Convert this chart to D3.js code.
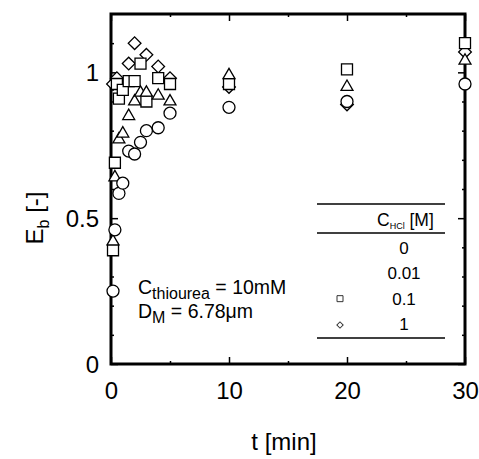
<!DOCTYPE html>
<html><head><meta charset="utf-8">
<script src="https://cdn.jsdelivr.net/npm/d3@7"></script>
<style>body{margin:0;background:#fff}svg{display:block;font-family:"Liberation Sans",Arial,sans-serif}</style>
</head><body><svg id="c" width="479" height="459"></svg>
<script>
// Data (C_HCl series)
const tCircle = [0.17, 0.33, 0.67, 1, 1.5, 2, 2.5, 3, 4, 5, 10, 20, 30];
const eCircle = [0.25, 0.46, 0.585, 0.62, 0.73, 0.72, 0.76, 0.80, 0.81, 0.86, 0.88, 0.90, 0.96];
const tTriangle = [0.17, 0.33, 0.67, 1, 1.5, 2, 2.5, 3, 4, 5, 10, 20, 30];
const eTriangle = [0.42, 0.64, 0.77, 0.79, 0.85, 0.90, 0.93, 0.93, 0.92, 0.90, 0.99, 0.95, 1.04];
const tSquare = [0.17, 0.33, 0.5, 0.67, 1, 1.5, 2, 2.5, 3, 4, 5, 10, 20, 30];
const eSquare = [0.39, 0.69, 0.96, 0.91, 0.94, 0.97, 0.97, 1.03, 0.90, 0.98, 0.96, 0.96, 1.01, 1.10];
const tDiamond = [0.17, 0.5, 1.5, 2, 3, 4, 5, 10, 20, 30];
const eDiamond = [0.96, 0.98, 1.03, 1.10, 1.06, 1.02, 0.98, 0.95, 0.89, 1.07];
const xMajor = [0, 10, 20, 30];
const xMinor = [5, 15, 25];
const yMajor = [0, 0.5, 1];
const yMinor = [0.1, 0.2, 0.3, 0.4, 0.6, 0.7, 0.8, 0.9, 1.1];
const legendLabels = ["0", "0.01", "0.1", "1"];

const svg = d3.select("#c");
const L = 111, R = 465, T = 14, B = 364;
const x = d3.scaleLinear().domain([0, 30]).range([L, R]);
const y = d3.scaleLinear().domain([0, 1.2]).range([B, T]);

function tickAxis(axis, tr, vals, size, fmt) {
  const g = svg.append("g").attr("transform", tr)
    .call(axis.tickValues(vals).tickSize(size).tickSizeOuter(0).tickFormat(fmt));
  g.select(".domain").remove();
  g.selectAll(".tick line").attr("stroke", "#000").attr("stroke-width", 1.5);
  return g;
}
const none = () => "";
// bottom
const gb = tickAxis(d3.axisBottom(x), `translate(0,${B})`, xMajor, -7, d3.format("d"));
gb.selectAll("text").attr("font-size", 24).attr("fill", "#000").attr("y", 18).attr("dy", "0.71em");
tickAxis(d3.axisBottom(x), `translate(0,${B})`, xMinor, -3, none);
// top
tickAxis(d3.axisTop(x), `translate(0,${T})`, xMajor, -7, none);
tickAxis(d3.axisTop(x), `translate(0,${T})`, xMinor, -3, none);
// left
const gl = tickAxis(d3.axisLeft(y), `translate(${L},0)`, yMajor, -7, d => d === 0.5 ? "0.5" : d3.format("d")(d));
gl.selectAll("text").attr("font-size", 24).attr("fill", "#000").attr("x", -12).attr("dy", "0.35em");
tickAxis(d3.axisLeft(y), `translate(${L},0)`, yMinor, -3, none);
// right
tickAxis(d3.axisRight(y), `translate(${R},0)`, yMajor, -7, none);
tickAxis(d3.axisRight(y), `translate(${R},0)`, yMinor, -3, none);

// frame
svg.append("rect").attr("x", L).attr("y", T).attr("width", R - L).attr("height", B - T)
  .attr("fill", "none").attr("stroke", "#000").attr("stroke-width", 3);

// markers
const sym = {
  circle: d3.symbol().type(d3.symbolCircle).size(113),
  triangle: d3.symbol().type(d3.symbolTriangle).size(62),
  square: d3.symbol().type(d3.symbolSquare).size(121),
  diamond: d3.symbol().type(d3.symbolSquare).size(81)
};
const series = [
  {k: "diamond", t: tDiamond, e: eDiamond, rot: 45},
  {k: "square", t: tSquare, e: eSquare, rot: 0},
  {k: "triangle", t: tTriangle, e: eTriangle, rot: 0},
  {k: "circle", t: tCircle, e: eCircle, rot: 0}
];
series.forEach(s => {
  svg.append("g").selectAll("path").data(s.t.map((t, i) => [t, s.e[i]])).join("path")
    .attr("d", sym[s.k])
    .attr("transform", d => `translate(${x(d[0])},${y(d[1])}) rotate(${s.rot})`)
    .attr("fill", "#fff").attr("stroke", "#000").attr("stroke-width", 1.3);
});

// annotations
const ann = svg.append("g").attr("font-size", 19.5).attr("fill", "#000");
const a1 = ann.append("text").attr("x", 138).attr("y", 294);
a1.append("tspan").text("C");
a1.append("tspan").attr("font-size", 16).attr("dy", 5).text("thiourea");
a1.append("tspan").attr("dy", -5).text(" = 10mM");
const a2 = ann.append("text").attr("x", 138).attr("y", 318);
a2.append("tspan").text("D");
a2.append("tspan").attr("font-size", 16).attr("dy", 5).text("M");
a2.append("tspan").attr("dy", -5).text(" = 6.78μm");

// legend table
const lg = svg.append("g");
[204, 233, 338].forEach(yy => lg.append("line").attr("x1", 317).attr("x2", 445)
  .attr("y1", yy).attr("y2", yy).attr("stroke", "#000").attr("stroke-width", 1.5));
const hdr = lg.append("text").attr("x", 377).attr("y", 226).attr("font-size", 17.5);
hdr.append("tspan").text("C");
hdr.append("tspan").attr("font-size", 9).attr("dy", 3).text("HCl");
hdr.append("tspan").attr("dy", -3).text(" [M]");
const rowY = d3.scalePoint().domain(legendLabels).range([254, 330]);
lg.selectAll("text.row").data(legendLabels).join("text").attr("class", "row")
  .attr("x", 404).attr("y", d => rowY(d)).attr("text-anchor", "middle").attr("font-size", 17).text(d => d);
lg.append("path").attr("d", d3.symbol().type(d3.symbolSquare).size(36))
  .attr("transform", `translate(340,${rowY("0.1") - 6})`).attr("fill", "#fff").attr("stroke", "#333").attr("stroke-width", 1);
lg.append("path").attr("d", d3.symbol().type(d3.symbolSquare).size(20))
  .attr("transform", `translate(340,${rowY("1") - 5}) rotate(45)`).attr("fill", "#fff").attr("stroke", "#333").attr("stroke-width", 1);

// axis titles
svg.append("text").attr("x", 284).attr("y", 450).attr("text-anchor", "middle").attr("font-size", 24).text("t [min]");
const yt = svg.append("text").attr("transform", "translate(43,218) rotate(-90)").attr("text-anchor", "middle").attr("font-size", 24);
yt.append("tspan").text("E");
yt.append("tspan").attr("font-size", 16).attr("dy", 6).text("b");
yt.append("tspan").attr("dy", -6).text(" [-]");
</script></body></html>
